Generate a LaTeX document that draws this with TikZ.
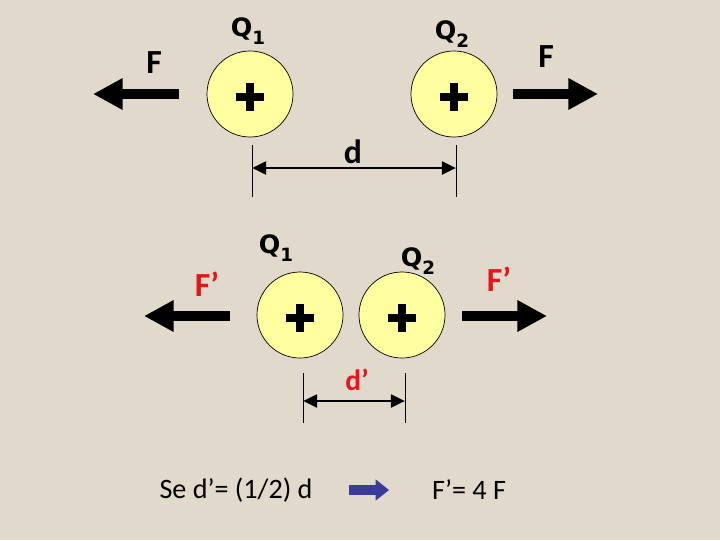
\documentclass[tikz,border=0pt]{standalone}
\usepackage{fontspec}
\setmainfont{Carlito}
\newfontfamily\qfont{DejaVu Sans}
\usetikzlibrary{positioning,arrows.meta}
\definecolor{paper}{RGB}{224,217,204}
\definecolor{ball}{RGB}{255,255,160}
\definecolor{fred}{RGB}{228,22,28}
\definecolor{navy}{RGB}{58,58,155}
\newcommand{\qsub}[1]{\raisebox{-0.6ex}{\fontsize{13}{13}\selectfont #1}}
\tikzset{
    charge/.style={circle, draw, fill=ball, line width=0.5pt, minimum size=2.15cm, inner sep=0pt,
        path picture={
            \draw[line width=5.6pt] ([xshift=-0.35cm, yshift=-0.07cm]path picture bounding box.center) -- ([xshift=0.35cm, yshift=-0.07cm]path picture bounding box.center);
            \draw[line width=5.6pt] ([yshift=-0.42cm]path picture bounding box.center) -- ([yshift=0.28cm]path picture bounding box.center);
        }},
    qlabel/.style={font=\qfont\bfseries\fontsize{18}{18}\selectfont, inner sep=0pt},
    flabel/.style={font=\bfseries\fontsize{24}{24}\selectfont, inner sep=0pt},
    force/.style={line width=7.1pt, -{Triangle[length=21pt, width=21pt]}},
    tick/.style={line width=0.6pt},
    dist/.style={line width=2.1pt, {Triangle[length=10pt, width=9pt]}-{Triangle[length=10pt, width=9pt]}},
    result/.style={font=\fontsize{20}{20}\selectfont, inner sep=0pt}
}

\begin{document}
\begin{tikzpicture}[x=0.025cm, y=-0.025cm]
    \fill[paper] (0,0) rectangle (720,540);
    \useasboundingbox (0,0) rectangle (720,540);

    % far apart
    \node[charge] (q1) at (250,94) {};
    \node[charge] (q2) at (454,94) {};
    \node[qlabel] (lq1) at (248,31) {Q\qsub{1}};
    \node[qlabel] (lq2) at (452,34) {Q\qsub{2}};

    \coordinate (f1s) at (179,94);
    \coordinate (f1e) at (93,94);
    \coordinate (f2s) at (513,94);
    \coordinate (f2e) at (598,94);
    \draw[force] (f1s) -- (f1e);
    \draw[force] (f2s) -- (f2e);
    \node[flabel] (lf1) at (154,63) {F};
    \node[flabel] (lf2) at (546,57) {F};

    \coordinate (d1t) at (252,145);
    \coordinate (d1b) at (252,197);
    \coordinate (d2t) at (456,145);
    \coordinate (d2b) at (456,197);
    \draw[tick] (d1t) -- (d1b);
    \draw[tick] (d2t) -- (d2b);
    \coordinate (d1) at (252,168);
    \coordinate (d2) at (456,168);
    \draw[dist] (d1) -- (d2);
    \node[flabel] (ld) at (353,152) {d};

    % close together
    \node[charge] (p1) at (300,315) {};
    \node[charge] (p2) at (402,315) {};
    \node[qlabel] (lp1) at (276,248) {Q\qsub{1}};
    \node[qlabel] (lp2) at (418,261) {Q\qsub{2}};

    \coordinate (g1s) at (230,316);
    \coordinate (g1e) at (144,316);
    \coordinate (g2s) at (462,316);
    \coordinate (g2e) at (547,316);
    \draw[force] (g1s) -- (g1e);
    \draw[force] (g2s) -- (g2e);
    \node[flabel, text=fred] (lg1) at (207,284) {F’};
    \node[flabel, text=fred] (lg2) at (499,279) {F’};

    \coordinate (e1t) at (303,373);
    \coordinate (e1b) at (303,423);
    \coordinate (e2t) at (405,373);
    \coordinate (e2b) at (405,423);
    \draw[tick] (e1t) -- (e1b);
    \draw[tick] (e2t) -- (e2b);
    \coordinate (e1) at (303,401);
    \coordinate (e2) at (405,401);
    \draw[dist] (e1) -- (e2);
    \node[flabel, text=fred, font=\bfseries\fontsize{21}{21}\selectfont] (le) at (357,380) {d’};

    % conclusion
    \node[result] (cond) at (236,490) {Se d’= (1/2) d};
    \node[result] (conc) at (469,490) {F’= 4 F};
    \coordinate (bs) at (349,490);
    \coordinate (be) at (389,490);
    \draw[line width=7.1pt, navy, -{Triangle[length=9.5pt, width=14.5pt]}] (bs) -- (be);
\end{tikzpicture}
\end{document}
